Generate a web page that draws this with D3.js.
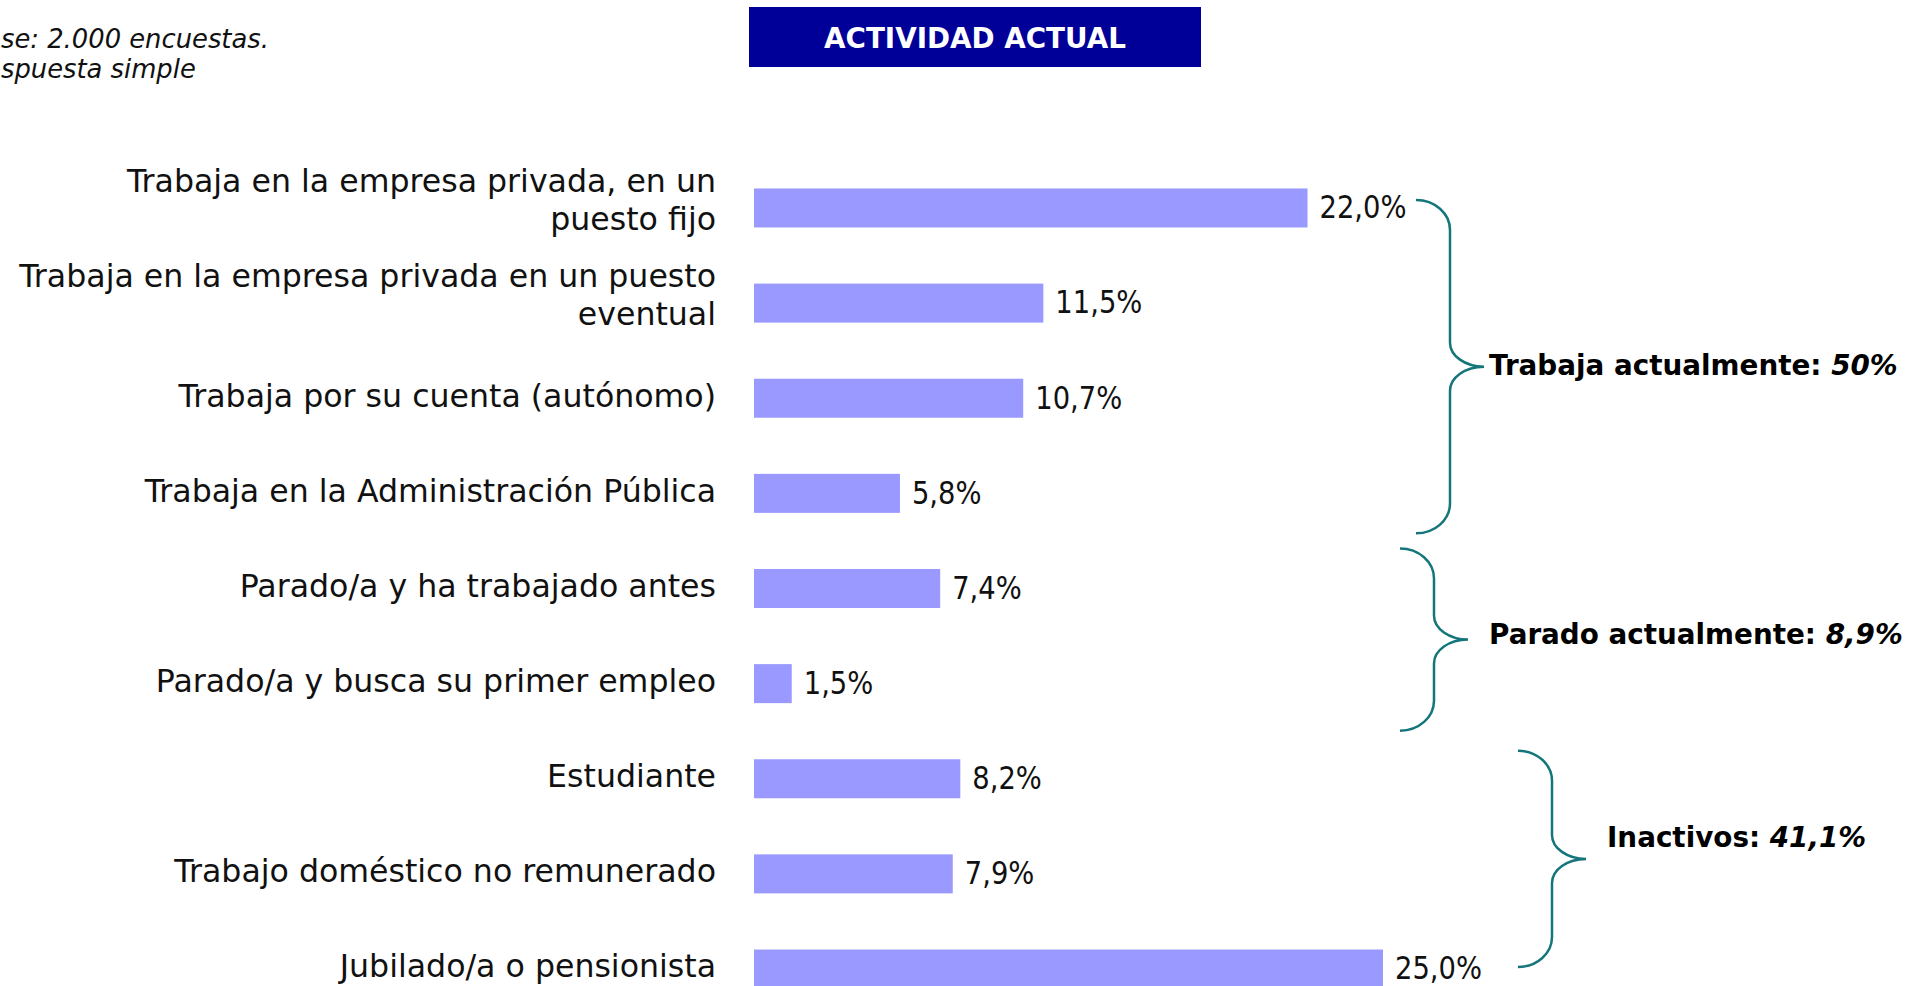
<!DOCTYPE html>
<html><head><meta charset="utf-8">
<script src="https://cdn.jsdelivr.net/npm/d3@7"></script>
<style>html,body{margin:0;padding:0;background:#fff;overflow:hidden}</style>
</head><body>
<svg id="chart" width="1923" height="986"></svg>
<script>
// ---------- data ----------
const categories = [
  "Trabaja en la empresa privada, en un\npuesto fijo",
  "Trabaja en la empresa privada en un puesto\neventual",
  "Trabaja por su cuenta (autónomo)",
  "Trabaja en la Administración Pública",
  "Parado/a y ha trabajado antes",
  "Parado/a y busca su primer empleo",
  "Estudiante",
  "Trabajo doméstico no remunerado",
  "Jubilado/a o pensionista"
];
const values = [22.0, 11.5, 10.7, 5.8, 7.4, 1.5, 8.2, 7.9, 25.0];
const valueLabels = ["22,0%", "11,5%", "10,7%", "5,8%", "7,4%", "1,5%", "8,2%", "7,9%", "25,0%"];
const groupNames = ["Trabaja actualmente:", "Parado actualmente:", "Inactivos:"];
const groupTotals = ["50%", "8,9%", "41,1%"];
const groupFirst = [0, 4, 6];
const groupLast = [3, 5, 8];
const titleText = "ACTIVIDAD ACTUAL";
// visible part of the note (left edge is cut off in the original slide)
const notes = ["se: 2.000 encuestas.", "spuesta simple"];

// ---------- layout / style ----------
const FONT = "'DejaVu Sans', sans-serif";
const barColor = "#9999FF";
const titleColor = "#000099";
const braceColor = "#14767A";
const braceLayout = [
  {tipX: 1416, topOff: -8,  botOff: 40, labelDx: 5,  labelDy: 8},
  {tipX: 1400, topOff: -40, botOff: 47, labelDx: 21, labelDy: 4},
  {tipX: 1518, topOff: -28, botOff: -2, labelDx: 21, labelDy: -12}
];

const svg = d3.select("#chart");

function measure(text, size, weight, style) {
  const t = svg.append("text").attr("font-family", FONT).attr("font-size", size)
    .attr("font-weight", weight || "normal").attr("font-style", style || "normal").text(text);
  const w = t.node().getComputedTextLength();
  t.remove();
  return w;
}
function fit(text, target, weight, style) {
  return 30 * target / measure(text, 30, weight, style);
}

const labelFs = fit("Trabaja en la empresa privada en un puesto", 697);
const valueFs = labelFs * 1.02;
const valueSqueeze = 87 / measure("22,0%", valueFs);
const groupFs = fit("Trabaja actualmente: 50%", 409, "bold");
const titleFs = fit(titleText, 302, "bold");
const noteFs = fit("se: 2.000 encuestas.", 268, "normal", "italic");

// ---------- scales ----------
const x = d3.scaleLinear().domain([0, 25]).range([754, 1383]);
const y = d3.scaleBand().domain(d3.range(categories.length))
  .range([160.4, 1016.6]).paddingInner(0.59).paddingOuter(0.295);
const cy = i => y(i) + y.bandwidth() / 2;

// ---------- notes ----------
svg.append("g").selectAll("text").data(notes).join("text")
  .attr("x", 1).attr("y", (d, i) => 48 + i * 30)
  .attr("font-family", FONT).attr("font-size", noteFs).attr("font-style", "italic")
  .attr("fill", "#111").text(d => d);

// ---------- title ----------
svg.append("rect").attr("x", 749).attr("y", 7).attr("width", 452).attr("height", 60).attr("fill", titleColor);
svg.append("text").attr("x", 975).attr("y", 48).attr("text-anchor", "middle")
  .attr("font-family", FONT).attr("font-weight", "bold").attr("font-size", titleFs)
  .attr("fill", "#fff").text(titleText);

// ---------- bars ----------
svg.append("g").selectAll("rect").data(values).join("rect")
  .attr("x", x(0)).attr("y", (d, i) => y(i))
  .attr("width", d => x(d) - x(0)).attr("height", y.bandwidth())
  .attr("fill", barColor);

// ---------- value labels ----------
svg.append("g").selectAll("text").data(values).join("text")
  .attr("x", d => x(d) + 12).attr("y", (d, i) => cy(i) + 0.32 * valueFs)
  .attr("font-family", FONT).attr("font-size", valueFs).attr("fill", "#111")
  .text((d, i) => valueLabels[i])
  .attr("lengthAdjust", "spacingAndGlyphs")
  .attr("textLength", (d, i) => measure(valueLabels[i], valueFs) * valueSqueeze);

// ---------- category labels ----------
const lab = svg.append("g").selectAll("text").data(categories).join("text")
  .attr("font-family", FONT).attr("font-size", labelFs).attr("fill", "#111")
  .attr("text-anchor", "end");
lab.each(function (d, i) {
  const lines = d.split("\n");
  const n = lines.length;
  const mid = cy(i) - 3 - (n - 1) * 5;
  const lh = 38;
  d3.select(this).selectAll("tspan").data(lines).join("tspan")
    .attr("x", 716)
    .attr("y", (l, k) => mid + (k - (n - 1) / 2) * lh + 0.36 * labelFs)
    .text(l => l);
});

// ---------- braces ----------
function bracePath(x0, y0, y1) {
  const h = 34, r = 30, r2 = 24;
  const x1 = x0 + h, x2 = x0 + 2 * h, ym = (y0 + y1) / 2;
  return `M${x0},${y0} A${h},${r} 0 0 1 ${x1},${y0 + r} L${x1},${ym - r2} ` +
    `A${h},${r2} 0 0 0 ${x2},${ym} A${h},${r2} 0 0 0 ${x1},${ym + r2} ` +
    `L${x1},${y1 - r} A${h},${r} 0 0 1 ${x0},${y1}`;
}
const bg = svg.append("g");
groupNames.forEach((name, g) => {
  const L = braceLayout[g];
  const y0 = cy(groupFirst[g]) + L.topOff;
  const y1 = cy(groupLast[g]) + L.botOff;
  bg.append("path").attr("d", bracePath(L.tipX, y0, y1))
    .attr("fill", "none").attr("stroke", braceColor).attr("stroke-width", 2.5);
  const ym = (y0 + y1) / 2;
  const t = bg.append("text").attr("x", L.tipX + 68 + L.labelDx).attr("y", ym + L.labelDy)
    .attr("font-family", FONT).attr("font-size", groupFs).attr("font-weight", "bold").attr("fill", "#000");
  t.append("tspan").text(name + " ");
  t.append("tspan").attr("font-style", "italic").text(groupTotals[g]);
});
</script>
</body></html>
